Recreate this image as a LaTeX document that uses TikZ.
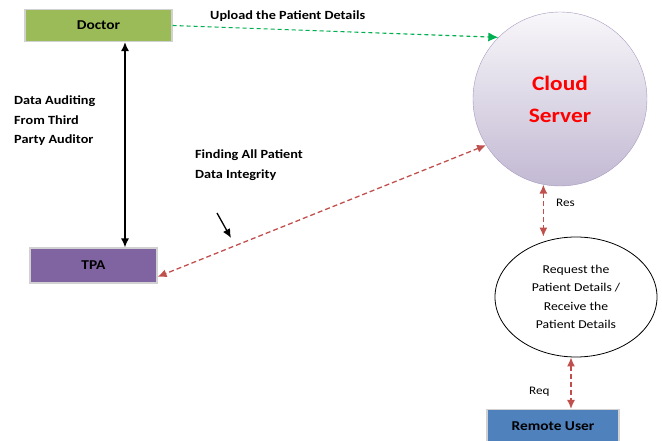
\documentclass[tikz,border=0pt]{standalone}
\usepackage{fontspec}
\setmainfont[FakeStretch=1.14]{Carlito}
\usetikzlibrary{arrows.meta,shapes.geometric}

\definecolor{doctorgreen}{HTML}{9BBB59}
\definecolor{tpapurple}{HTML}{8064A2}
\definecolor{userblue}{HTML}{4F81BD}
\definecolor{linkred}{HTML}{C0504D}
\definecolor{linkgreen}{HTML}{00B050}
\definecolor{serverrim}{HTML}{A89BC0}

\begin{document}
\begin{tikzpicture}[x=1pt, y=-1pt,
    actorbox/.style ={rectangle, draw=black!18, line width=1.2pt, inner sep=0pt,
                      font=\fontsize{13.5}{15}\selectfont\bfseries},
    server/.style ={circle, draw=serverrim, thin, minimum size=174pt, align=center,
                    top color=white!92!serverrim, bottom color=serverrim!70,
                    text=red, font=\fontsize{20.5}{32}\selectfont\bfseries},
    request/.style ={ellipse, draw, thick, minimum width=162pt, minimum height=120pt,
                     align=center, font=\fontsize{12}{18.5}\selectfont},
    note/.style ={align=left, inner sep=0pt, font=\fontsize{12.5}{19.5}\selectfont\bfseries},
    redlink/.style ={linkred, line width=1.3pt, dash pattern=on 5pt off 3pt, {Latex[length=9pt,width=8pt]}-{Latex[length=9pt,width=8pt]}}]
   \useasboundingbox (0,0) rectangle (662,441);
   \node[actorbox, fill=doctorgreen, minimum width=147pt, minimum height=32pt] (doctor) at (98.5,25.5) {Doctor};
   \node[actorbox, fill=tpapurple, minimum width=127pt, minimum height=35pt] (tpa) at (93.5,265.5) {TPA};
   \node[actorbox, fill=userblue, minimum width=132pt, minimum height=33pt] (remote) at (553,426) {Remote User};
   \node[server] (cloud) at (560,99) {Cloud\\Server};
   \node[request] (req) at (576,297) {Request the\\Patient Details /\\Receive the\\Patient Details};
   \node[note, anchor=west] (upload) at (210,16) {Upload the Patient Details};
   \node[note, anchor=north west] (audit) at (14,96) {Data Auditing\\From Third\\Party Auditor};
   \node[note, anchor=north west] (finding) at (195,150) {Finding All Patient\\Data Integrity};
   \node[note, anchor=west, font=\fontsize{11.5}{13}\selectfont] (res) at (556,203) {Res};
   \node[note, anchor=west, font=\fontsize{11.5}{13}\selectfont] (reqlabel) at (529,392) {Req};
   \coordinate (hinta) at (217,213);
   \coordinate (hintb) at (231,238);
   \draw[linkgreen, line width=1.1pt, dash pattern=on 4pt off 3pt, -{Latex[length=10pt,width=9pt]}] (doctor.east) to [shorten >=2pt] (cloud.135);
   \draw[line width=1.3pt, {Latex[length=9pt,width=8pt]}-{Latex[length=9pt,width=8pt]}] ([xshift=26.5pt]doctor.south) to ([xshift=31.5pt]tpa.north);
   \draw[redlink] (cloud.212) to [shorten <=2pt, shorten >=10pt] (tpa.-10);
   \draw[redlink] (cloud.259) to (cloud.259 |- req.north);
   \draw[redlink] ([xshift=-5pt]req.south) to ([xshift=-5pt]req.south |- remote.north);
   \draw[line width=1.3pt, -{Latex[length=9pt,width=8pt]}] (hinta) to (hintb);
\end{tikzpicture}
\end{document}
